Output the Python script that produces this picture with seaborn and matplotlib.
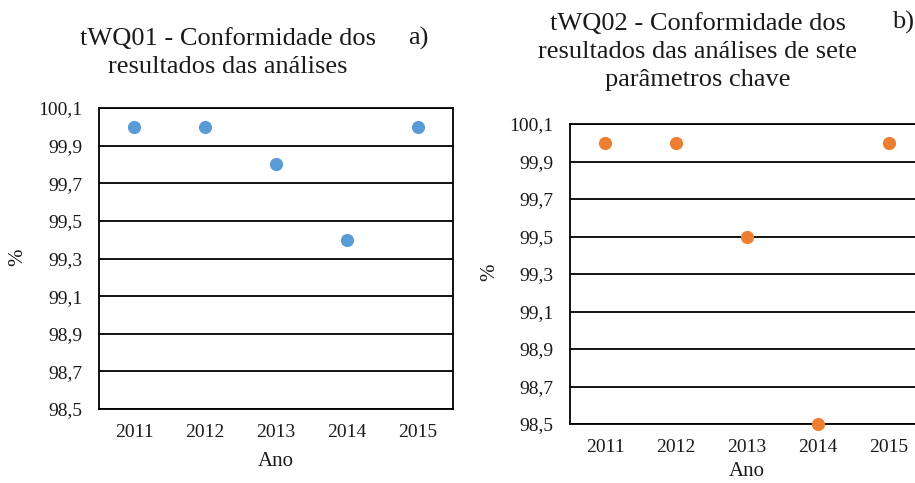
import numpy as np
import pandas as pd
import seaborn as sns
import matplotlib.pyplot as plt
from matplotlib.ticker import FuncFormatter

# Data
anos = ['2011', '2012', '2013', '2014', '2015']
twq01 = [100.0, 100.0, 99.8, 99.4, 100.0]
twq02 = [100.0, 100.0, 99.5, 98.5, 100.0]
y_ticks = [98.5, 98.7, 98.9, 99.1, 99.3, 99.5, 99.7, 99.9, 100.1]

sns.set_theme(style='white')
plt.rcParams['font.family'] = ['Liberation Serif', 'DejaVu Serif']

fig = plt.figure(figsize=(9.15, 4.83), dpi=100)
W, H = 915, 483

def px_axes(x0, y0, x1, y1):
    # pixel box (top-left origin) -> figure fraction
    return fig.add_axes([x0 / W, 1 - y1 / H, (x1 - x0) / W, (y1 - y0) / H])

comma = FuncFormatter(lambda v, p: f'{v:.1f}'.replace('.', ','))

def draw_panel(ax, values, color, right_spine):
    df = pd.DataFrame({'Ano': anos, 'valor': values})
    sns.stripplot(data=df, x='Ano', y='valor', order=anos, jitter=False,
                  color=color, size=9.5, linewidth=0, ax=ax, zorder=3, clip_on=False)
    ax.set_xlim(-0.5, 4.5)
    ax.set_ylim(98.5, 100.1)
    ax.set_yticks(y_ticks)
    ax.yaxis.set_major_formatter(comma)
    ax.grid(axis='y', color='black', linewidth=1.3)
    ax.grid(axis='x', visible=False)
    ax.tick_params(axis='both', length=0, labelsize=14, colors='#1a1a1a')
    ax.tick_params(axis='y', pad=12)
    ax.tick_params(axis='x', pad=11)
    for s in ['left', 'bottom', 'top']:
        ax.spines[s].set_color('black')
        ax.spines[s].set_linewidth(1.3)
    ax.spines['right'].set_visible(right_spine)
    ax.spines['right'].set_color('black')
    ax.spines['right'].set_linewidth(1.3)
    ax.set_xlabel('')
    ax.set_ylabel('')
    ax.set_axisbelow(True)

# Panel a)
ax1 = px_axes(99, 108, 453, 409)
draw_panel(ax1, twq01, '#5B9BD5', True)
fig.text(228 / W, 1 - 53 / H, 'tWQ01 - Conformidade dos\nresultados das análises',
         ha='center', va='center', fontsize=19, linespacing=1.3, color='#1a1a1a')
fig.text(418 / W, 1 - 38 / H, 'a)', ha='center', va='center', fontsize=19, color='#1a1a1a')
fig.text(276 / W, 1 - 462 / H, 'Ano', ha='center', va='center', fontsize=15, color='#1a1a1a')
fig.text(18 / W, 1 - 257 / H, '%', ha='center', va='center', rotation=90, fontsize=15, color='#1a1a1a')

# Panel b)
ax2 = px_axes(570, 124, 924, 424)
draw_panel(ax2, twq02, '#ED7D31', False)
fig.text(698 / W, 1 - 52 / H, 'tWQ02 - Conformidade dos\nresultados das análises de sete\nparâmetros chave',
         ha='center', va='center', fontsize=19, linespacing=1.35, color='#1a1a1a')
fig.text(903 / W, 1 - 22 / H, 'b)', ha='center', va='center', fontsize=19, color='#1a1a1a')
fig.text(747 / W, 1 - 472 / H, 'Ano', ha='center', va='center', fontsize=15, color='#1a1a1a')
fig.text(490 / W, 1 - 272 / H, '%', ha='center', va='center', rotation=90, fontsize=15, color='#1a1a1a')

fig.savefig('out.png', dpi=100)
